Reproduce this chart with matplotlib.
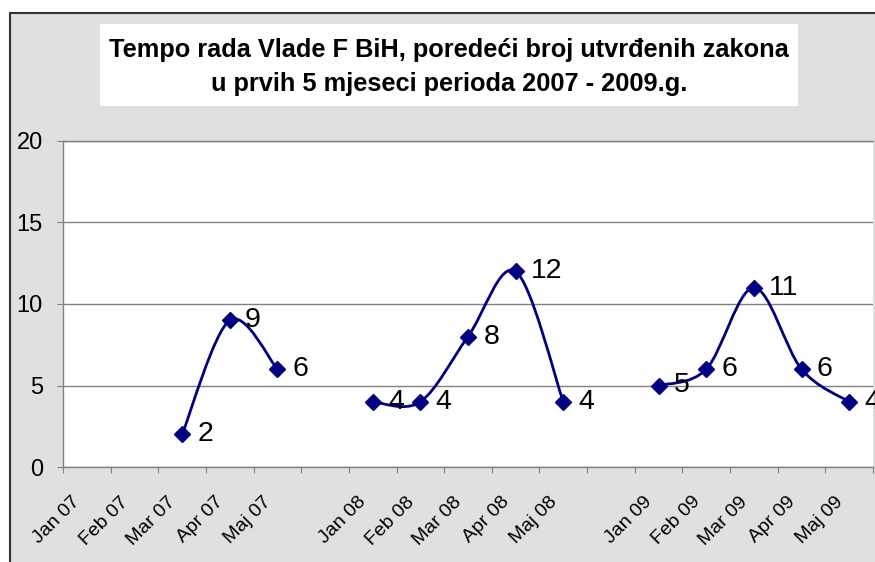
import matplotlib
matplotlib.use('Agg')
import matplotlib.pyplot as plt
import matplotlib.transforms as mtransforms
from matplotlib.patches import Rectangle, PathPatch
from matplotlib.path import Path
import numpy as np

plt.rcParams['font.family'] = ['Liberation Sans', 'DejaVu Sans']

# categories (empty labels are the gaps between years)
months = ['Jan 07', 'Feb 07', 'Mar 07', 'Apr 07', 'Maj 07', '',
          'Jan 08', 'Feb 08', 'Mar 08', 'Apr 08', 'Maj 08', '',
          'Jan 09', 'Feb 09', 'Mar 09', 'Apr 09', 'Maj 09']
# number of laws adopted (None = no value)
zakoni = [None, None, 2, 9, 6, None,
          4, 4, 8, 12, 4, None,
          5, 6, 11, 6, 4]

title = 'Tempo rada Vlade F BiH, poredeći broj utvrđenih zakona\nu prvih 5 mjeseci perioda 2007 - 2009.g.'

navy = '#000080'
grid_col = '#808080'

fig = plt.figure(figsize=(8.75, 5.62), dpi=100, facecolor='white')

# chart area with grey background and dark border (cut off at right/bottom)
fig.patches.append(Rectangle((10 / 875, -0.1), 1.2, 1 - 13 / 562 + 0.1,
                             transform=fig.transFigure, facecolor='#e0e0e0',
                             edgecolor='#333333', lw=1.5, zorder=-2))
# white title box
fig.patches.append(Rectangle((100 / 875, 1 - 106 / 562), 698 / 875, 82 / 562,
                             transform=fig.transFigure, facecolor='white',
                             edgecolor='none', zorder=-1))
fig.text(449 / 875, 1 - 67 / 562, title, ha='center', va='center',
         fontsize=18.3, fontweight='bold', linespacing=1.5, zorder=2)

ax = fig.add_axes([63 / 875, 95 / 562, 810 / 875, 326 / 562])
ax.set_facecolor('white')

x = np.arange(len(months))
y = np.array([np.nan if v is None else v for v in zakoni], dtype=float)

# smoothed line (Catmull-Rom style bezier like Excel), one piece per run of values
i = 0
while i < len(y):
    if np.isnan(y[i]):
        i += 1
        continue
    j = i
    while j + 1 < len(y) and not np.isnan(y[j + 1]):
        j += 1
    px = x[i:j + 1].astype(float)
    py = y[i:j + 1]
    n = len(px)
    verts = [(px[0], py[0])]
    codes = [Path.MOVETO]
    for k in range(n - 1):
        k0 = max(k - 1, 0)
        k3 = min(k + 2, n - 1)
        c1 = (px[k] + (px[k + 1] - px[k0]) / 6, py[k] + (py[k + 1] - py[k0]) / 6)
        c2 = (px[k + 1] - (px[k3] - px[k]) / 6, py[k + 1] - (py[k3] - py[k]) / 6)
        verts += [c1, c2, (px[k + 1], py[k + 1])]
        codes += [Path.CURVE4] * 3
    ax.add_patch(PathPatch(Path(verts, codes), facecolor='none', edgecolor=navy,
                           lw=2, zorder=3))
    i = j + 1

ax.plot(x, y, linestyle='none', marker='D', markersize=8.5, color=navy, zorder=4)

for xi, yi in zip(x, y):
    if np.isnan(yi):
        continue
    ax.annotate(str(int(yi)), (xi, yi), xytext=(11, 0), textcoords='offset points',
                ha='left', va='center', fontsize=20.5, annotation_clip=False, zorder=5)

ax.set_xlim(-0.5, len(months) - 0.5)
ax.set_ylim(0, 20)
ax.set_yticks([0, 5, 10, 15, 20])
ax.yaxis.grid(True, color=grid_col, lw=1)
ax.set_axisbelow(True)

ax.set_xticks(np.arange(len(months) + 1) - 0.5)
ax.set_xticklabels([])
ax.set_xticks(x, minor=True)
ax.set_xticklabels(months, minor=True, rotation=45, ha='right',
                   rotation_mode='anchor', fontsize=14)
ax.tick_params(axis='x', which='major', direction='out', length=4, color=grid_col)
ax.tick_params(axis='x', which='minor', length=0, pad=19)
ax.tick_params(axis='y', direction='out', length=4.5, color=grid_col, pad=10,
               labelsize=17)

offset = mtransforms.ScaledTranslation(-15 / 100, 0, fig.dpi_scale_trans)
for lab in ax.get_xticklabels(minor=True):
    lab.set_transform(lab.get_transform() + offset)

for s in ['left', 'bottom', 'top']:
    ax.spines[s].set_color(grid_col)
    ax.spines[s].set_linewidth(1)
ax.spines['right'].set_visible(False)

fig.savefig('out.png', dpi=100, facecolor='white')
